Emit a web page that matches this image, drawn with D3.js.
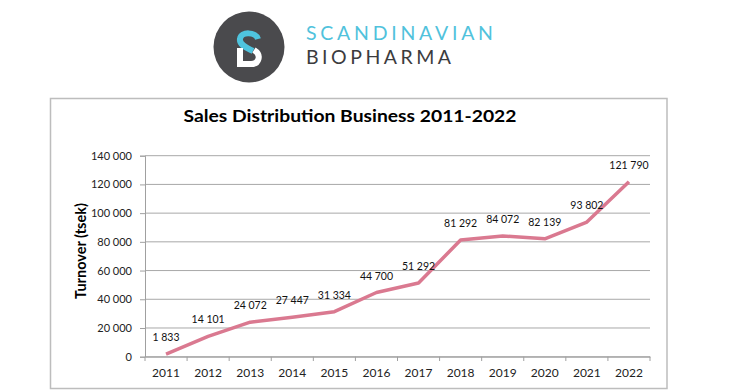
<!DOCTYPE html>
<html><head><meta charset="utf-8">
<script src="https://cdn.jsdelivr.net/npm/d3@7/dist/d3.min.js"></script>
<style>
html,body{margin:0;padding:0;background:#fff;}
svg{display:block;}
</style></head>
<body>
<svg id="c" width="746" height="392"></svg>
<script>
const years = ["2011","2012","2013","2014","2015","2016","2017","2018","2019","2020","2021","2022"];
const turnover = [1833, 14101, 24072, 27447, 31334, 44700, 51292, 81292, 84072, 82139, 93802, 121790];
const yTicks = [0, 20000, 40000, 60000, 80000, 100000, 120000, 140000];
const chartTitle = "Sales Distribution Business 2011-2022";
const yTitle = "Turnover (tsek)";
const brandTop = "SCANDINAVIAN";
const brandBottom = "BIOPHARMA";

const svg = d3.select("#c");
const FONT = "Lato, 'Open Sans', sans-serif";
const fmt = d3.formatLocale({decimal:",", thousands:" ", grouping:[3], currency:["",""]}).format(",d");

// ---- logo ----
const lg = svg.append("g");
const cx = 249, cy = 47;
lg.append("circle").attr("cx",cx).attr("cy",cy).attr("r",35.5).attr("fill","#4a4a4d");
lg.append("path")
  .attr("d",`M${cx+9},${cy-8} C${cx+7},${cy-15} ${cx-8},${cy-16} ${cx-9},${cy-8} C${cx-10},${cy-2} ${cx-2},${cy+1} ${cx+4},${cy+4}`)
  .attr("fill","none").attr("stroke","#4fc4de").attr("stroke-width",6);
lg.append("path")
  .attr("d",`M${cx-9},${cy+1} L${cx-9},${cy+17} L${cx+2},${cy+17} C${cx+10},${cy+17} ${cx+13},${cy+8} ${cx+5},${cy+3}`)
  .attr("fill","none").attr("stroke","#ffffff").attr("stroke-width",6);
lg.append("text").attr("x",306).attr("y",40).text(brandTop)
  .attr("font-family","Lato, sans-serif").attr("font-size",19.5).attr("fill","#50c2dc")
  .attr("textLength",187).attr("lengthAdjust","spacing");
lg.append("text").attr("x",306).attr("y",64.3).text(brandBottom)
  .attr("font-family","Lato, sans-serif").attr("font-size",19.5).attr("fill","#3c3c3e")
  .attr("textLength",145).attr("lengthAdjust","spacing");

// ---- frame ----
svg.append("rect").attr("x",50.5).attr("y",98.5).attr("width",616.5).attr("height",290)
  .attr("fill","#fff").attr("stroke","#bdbdbd").attr("stroke-width",1.5);

// ---- title ----
svg.append("text").attr("x",350).attr("y",122.3).attr("text-anchor","middle")
  .attr("font-family",FONT).attr("font-weight","bold").attr("font-size",17.5).attr("fill","#000")
  .attr("textLength",333).attr("lengthAdjust","spacingAndGlyphs").text(chartTitle);

// ---- scales ----
const x = d3.scaleBand().domain(years).range([145,650]).padding(0);
const y = d3.scaleLinear().domain([0,140000]).range([356.7,155.7]);
const px = d => x(d) + x.bandwidth()/2;

// gridlines
svg.append("g").selectAll("line").data(yTicks).join("line")
  .attr("x1",145).attr("x2",650).attr("y1",d=>y(d)).attr("y2",d=>y(d))
  .attr("stroke","#a8a8a8").attr("stroke-width",1);

// y axis
const yAxis = svg.append("g").attr("transform","translate(145,0)")
  .call(d3.axisLeft(y).tickValues(yTicks).tickSize(5).tickPadding(8).tickFormat(fmt));
yAxis.select(".domain").attr("stroke","#a0a0a0");
yAxis.selectAll(".tick line").attr("stroke","#a0a0a0");
yAxis.selectAll("text").attr("font-family",FONT).attr("font-size",11).attr("fill","#222");

// x axis
const xAxis = svg.append("g").attr("transform","translate(0,356.7)")
  .call(d3.axisBottom(x).tickSize(0).tickPadding(12));
xAxis.select(".domain").attr("stroke","#a0a0a0");
xAxis.selectAll("text").attr("font-family",FONT).attr("font-size",12).attr("fill","#222");
// band boundary ticks
const bounds = years.map(d=>x(d)).concat([x(years[years.length-1])+x.bandwidth()]);
svg.append("g").selectAll("line").data(bounds).join("line")
  .attr("x1",d=>d).attr("x2",d=>d).attr("y1",356.7).attr("y2",361)
  .attr("stroke","#a0a0a0");

// y title
svg.append("text").attr("transform","translate(86,251) rotate(-90)").attr("text-anchor","middle")
  .attr("font-family",FONT).attr("font-weight","bold").attr("font-size",14.5).attr("fill","#000")
  .text(yTitle);

// line
const data = years.map((d,i)=>({year:d, v:turnover[i]}));
svg.append("path").datum(data)
  .attr("d", d3.line().x(d=>px(d.year)).y(d=>y(d.v)))
  .attr("fill","none").attr("stroke","#da7990").attr("stroke-width",3.5).attr("stroke-linejoin","round");

// data labels
svg.append("g").selectAll("text").data(data).join("text")
  .attr("x",d=>px(d.year)).attr("y",d=>y(d.v)-13).attr("text-anchor","middle")
  .attr("font-family",FONT).attr("font-size",10.5).attr("fill","#111")
  .text(d=>fmt(d.v));
</script>
</body></html>
